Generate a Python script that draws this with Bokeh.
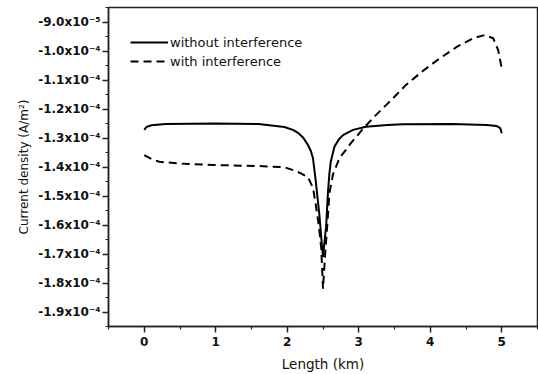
from bokeh.plotting import figure
from bokeh.models import Range1d, FixedTicker, CustomJSTickFormatter, Legend, LegendItem
from bokeh.embed import file_html
from bokeh.resources import INLINE

# ---- data (x in km, y in A/m^2 expressed in units of 1e-4) ----
x_without = [0.00, 0.03, 0.10, 0.30, 1.00, 1.60, 1.96, 2.08, 2.15, 2.22, 2.29, 2.33, 2.36, 2.40, 2.45, 2.48,
             2.50, 2.52, 2.545, 2.57, 2.59, 2.61, 2.66, 2.72, 2.78, 2.92, 3.10, 3.40, 3.62, 4.30, 4.79, 4.93,
             4.98, 5.00]
y_without_e4 = [-1.272, -1.262, -1.256, -1.252, -1.250, -1.252, -1.262, -1.272, -1.282, -1.298, -1.324, -1.345,
                -1.370, -1.451, -1.566, -1.657,
                -1.710, -1.660, -1.600, -1.485, -1.421, -1.380, -1.330, -1.305, -1.290, -1.272, -1.261, -1.255,
                -1.253, -1.252, -1.255, -1.259, -1.266, -1.284]

x_with = [0.00, 0.10, 0.21, 0.49, 0.96, 1.66, 1.96, 2.10, 2.19, 2.29, 2.36, 2.40, 2.44, 2.475, 2.50,
          2.53, 2.56, 2.59, 2.64, 2.73, 2.89, 3.06, 3.24, 3.48, 3.66, 3.90, 4.13, 4.37, 4.60, 4.76, 4.88,
          4.95, 5.00]
y_with_e4 = [-1.359, -1.372, -1.382, -1.388, -1.393, -1.397, -1.401, -1.412, -1.422, -1.435, -1.472, -1.531,
             -1.600, -1.679, -1.820,
             -1.700, -1.600, -1.490, -1.425, -1.370, -1.318, -1.268, -1.221, -1.163, -1.117, -1.068, -1.026,
             -0.986, -0.956, -0.945, -0.956, -0.997, -1.060]

y_tick_values = [-9.0e-5, -1.0e-4, -1.1e-4, -1.2e-4, -1.3e-4, -1.4e-4, -1.5e-4, -1.6e-4, -1.7e-4, -1.8e-4, -1.9e-4]
y_tick_labels = ["-9.0x10\u207b\u2075", "-1.0x10\u207b\u2074", "-1.1x10\u207b\u2074", "-1.2x10\u207b\u2074",
                 "-1.3x10\u207b\u2074", "-1.4x10\u207b\u2074", "-1.5x10\u207b\u2074", "-1.6x10\u207b\u2074",
                 "-1.7x10\u207b\u2074", "-1.8x10\u207b\u2074", "-1.9x10\u207b\u2074"]
y_minor_values = [-8.5e-5, -9.5e-5, -1.05e-4, -1.15e-4, -1.25e-4, -1.35e-4, -1.45e-4, -1.55e-4, -1.65e-4,
                  -1.75e-4, -1.85e-4, -1.95e-4]
x_tick_values = [0, 1, 2, 3, 4, 5]
x_minor_values = [-0.5, 0.5, 1.5, 2.5, 3.5, 4.5, 5.5]

y_without = [v * 1e-4 for v in y_without_e4]
y_with = [v * 1e-4 for v in y_with_e4]

p = figure(width=538, height=374, output_backend="svg", toolbar_location=None,
           x_range=Range1d(-0.5, 5.5), y_range=Range1d(-1.95e-4, -8.5e-5),
           min_border_left=108, min_border_right=1, min_border_top=7, min_border_bottom=47)
p.background_fill_color = "white"
p.border_fill_color = "white"
p.grid.visible = False
p.outline_line_color = "#222222"
p.outline_line_width = 1.5

r1 = p.line(x_without, y_without, line_color="black", line_width=2)
r2 = p.line(x_with, y_with, line_color="black", line_width=2, line_dash="8 5")

FONT = "DejaVu Sans"

xa = p.xaxis[0]
xa.ticker = FixedTicker(ticks=x_tick_values, minor_ticks=x_minor_values)
xa.axis_label = "Length (km)"
ya = p.yaxis[0]
ya.ticker = FixedTicker(ticks=y_tick_values, minor_ticks=y_minor_values)
ya.formatter = CustomJSTickFormatter(args=dict(vals=y_tick_values, labs=y_tick_labels), code="""
let i = 0, b = 1e9;
for (let k = 0; k < vals.length; k++) { const d = Math.abs(vals[k] - tick); if (d < b) { b = d; i = k; } }
return labs[i];
""")
ya.axis_label = "Current density (A/m\u00b2)"

for ax in (xa, ya):
    ax.axis_line_color = "#222222"
    ax.axis_line_width = 1.5
    ax.major_tick_line_color = "#222222"
    ax.minor_tick_line_color = "#222222"
    ax.major_tick_line_width = 1.5
    ax.minor_tick_line_width = 1.2
    ax.major_tick_in = 0
    ax.major_tick_out = 6
    ax.minor_tick_in = 0
    ax.minor_tick_out = 3
    ax.major_label_text_font = FONT
    ax.major_label_text_font_style = "bold"
    ax.major_label_text_font_size = "12px"
    ax.major_label_text_color = "#111111"
    ax.axis_label_text_font = FONT
    ax.axis_label_text_font_style = "normal"
    ax.axis_label_text_color = "#111111"

xa.axis_label_text_font_size = "13.5px"
ya.axis_label_text_font_size = "12px"
xa.major_label_standoff = 4
ya.major_label_standoff = 2
xa.axis_label_standoff = 7
ya.axis_label_standoff = 4

legend = Legend(items=[LegendItem(label="without interference", renderers=[r1]),
                       LegendItem(label="with interference", renderers=[r2])],
                location=(22, 257))
legend.border_line_color = None
legend.background_fill_alpha = 0
legend.padding = 0
legend.margin = 0
legend.spacing = 3
legend.glyph_width = 38
legend.glyph_height = 16
legend.label_height = 16
legend.label_standoff = 2
legend.label_text_font = FONT
legend.label_text_font_size = "13px"
legend.label_text_color = "#111111"
p.add_layout(legend, "center")

open("out.html", "w").write(file_html(p, INLINE))
